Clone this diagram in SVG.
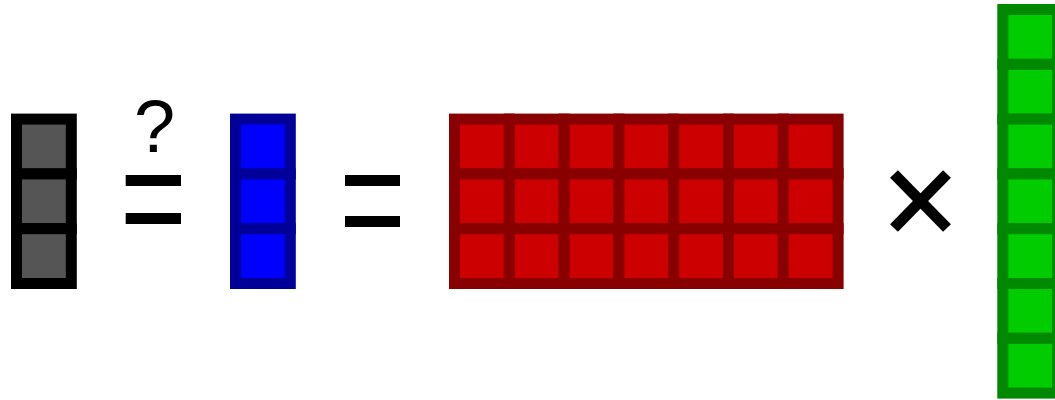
<svg xmlns="http://www.w3.org/2000/svg" width="1055" height="400" viewBox="0 0 1055 400">
<style>
.gray rect{fill:#555555;stroke:#000000;stroke-width:11}
.blue rect{fill:#0000ff;stroke:#000099;stroke-width:11}
.red rect{fill:#cc0000;stroke:#880000;stroke-width:11}
.green rect{fill:#00cc00;stroke:#008800;stroke-width:11}
.bar{fill:#000000}
.op{stroke:#000000;stroke-width:11;fill:none}
.q{font-family:"Liberation Sans",Arial,sans-serif;font-size:74px;fill:#000000}
</style>
<rect width="1055" height="400" fill="#ffffff"/>
<g id="vector-gray" class="gray">
<rect x="16.5" y="119.1" width="54.8" height="54.8"/>
<rect x="16.5" y="173.9" width="54.8" height="54.8"/>
<rect x="16.5" y="228.7" width="54.8" height="54.8"/>
</g>
<g id="op-equals-question">
<text class="q" x="154.5" y="151.5" text-anchor="middle">?</text>
<rect class="bar" x="125.7" y="175" width="55.3" height="11"/>
<rect class="bar" x="125.7" y="213" width="55.3" height="11"/>
</g>
<g id="vector-blue" class="blue">
<rect x="235.5" y="119.1" width="54.8" height="54.8"/>
<rect x="235.5" y="173.9" width="54.8" height="54.8"/>
<rect x="235.5" y="228.7" width="54.8" height="54.8"/>
</g>
<g id="op-equals">
<rect class="bar" x="345" y="175" width="55" height="11"/>
<rect class="bar" x="345" y="216" width="55" height="11"/>
</g>
<g id="matrix-red" class="red">
<rect x="454.5" y="119.1" width="54.8" height="54.8"/><rect x="509.3" y="119.1" width="54.8" height="54.8"/><rect x="564.1" y="119.1" width="54.8" height="54.8"/><rect x="618.9" y="119.1" width="54.8" height="54.8"/><rect x="673.7" y="119.1" width="54.8" height="54.8"/><rect x="728.5" y="119.1" width="54.8" height="54.8"/><rect x="783.3" y="119.1" width="54.8" height="54.8"/>
<rect x="454.5" y="173.9" width="54.8" height="54.8"/><rect x="509.3" y="173.9" width="54.8" height="54.8"/><rect x="564.1" y="173.9" width="54.8" height="54.8"/><rect x="618.9" y="173.9" width="54.8" height="54.8"/><rect x="673.7" y="173.9" width="54.8" height="54.8"/><rect x="728.5" y="173.9" width="54.8" height="54.8"/><rect x="783.3" y="173.9" width="54.8" height="54.8"/>
<rect x="454.5" y="228.7" width="54.8" height="54.8"/><rect x="509.3" y="228.7" width="54.8" height="54.8"/><rect x="564.1" y="228.7" width="54.8" height="54.8"/><rect x="618.9" y="228.7" width="54.8" height="54.8"/><rect x="673.7" y="228.7" width="54.8" height="54.8"/><rect x="728.5" y="228.7" width="54.8" height="54.8"/><rect x="783.3" y="228.7" width="54.8" height="54.8"/>
</g>
<g id="op-times">
<line class="op" x1="894" y1="174" x2="947" y2="228"/>
<line class="op" x1="947" y1="174" x2="894" y2="228"/>
</g>
<g id="vector-green" class="green">
<rect x="1002.8" y="9.5" width="54.8" height="54.8"/>
<rect x="1002.8" y="64.3" width="54.8" height="54.8"/>
<rect x="1002.8" y="119.1" width="54.8" height="54.8"/>
<rect x="1002.8" y="173.9" width="54.8" height="54.8"/>
<rect x="1002.8" y="228.7" width="54.8" height="54.8"/>
<rect x="1002.8" y="283.5" width="54.8" height="54.8"/>
<rect x="1002.8" y="338.3" width="54.8" height="54.8"/>
</g>
<g id="connectors"/>
</svg>
